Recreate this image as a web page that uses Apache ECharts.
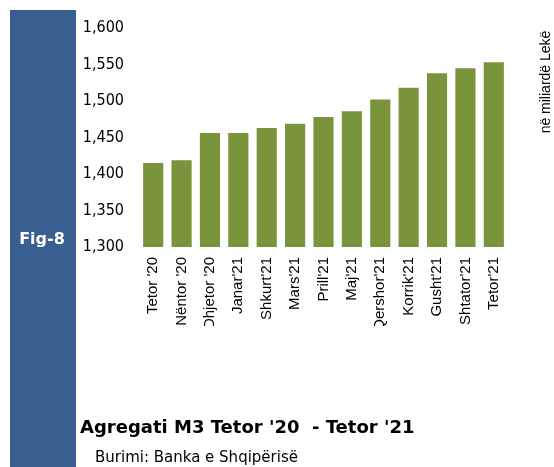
<!DOCTYPE html>
<html>
<head>
<meta charset="utf-8">
<script src="https://cdn.jsdelivr.net/npm/echarts@6/dist/echarts.min.js"></script>
<style>
  html, body { margin: 0; padding: 0; background: #fff; }
  #chart { width: 554px; height: 467px; }
</style>
</head>
<body>
<div id="chart"></div>
<script>
// muajt
const months = ["Tetor '20", "Nëntor '20", "Dhjetor '20", "Janar'21", "Shkurt'21", "Mars'21", "Prill'21",
  "Maj'21", "Qershor'21", "Korrik'21", "Gusht'21", "Shtator'21", "Tetor'21"]
// M3, miliardë Lekë
const m3Values = [1415, 1419, 1456, 1456, 1463, 1469, 1478, 1486, 1502, 1518, 1538, 1545, 1553]
const yTicks = [1300, 1350, 1400, 1450, 1500, 1550, 1600]

const chart = echarts.init(document.getElementById('chart'))

chart.setOption({
  animation: false,
  grid: { left: 139, right: 46, top: 28, bottom: 220 },
  xAxis: {
    type: 'category',
    data: months,
    axisLine: { show: false },
    axisTick: { show: false },
    axisLabel: {
      rotate: 90,
      margin: 10,
      interval: 0,
      color: '#000',
      fontFamily: 'Liberation Sans',
      fontSize: 15
    }
  },
  yAxis: {
    type: 'value',
    min: yTicks[0],
    max: yTicks[yTicks.length - 1],
    interval: 50,
    axisLine: { show: false },
    axisTick: { show: false },
    splitLine: { show: false },
    axisLabel: {
      margin: 15,
      color: '#000',
      fontFamily: 'DejaVu Sans Condensed',
      fontSize: 16,
      formatter: v => v.toLocaleString('en-US')
    }
  },
  series: [{
    type: 'bar',
    data: m3Values,
    barWidth: '71%',
    itemStyle: { color: '#7A943C' }
  }],
  graphic: [
    // labels are cut off below this line in the original
    { type: 'rect', z: 100, left: 130, top: 326, shape: { width: 400, height: 80 }, style: { fill: '#fff' } },
    { type: 'rect', left: 10, top: 10, shape: { width: 66, height: 457 }, style: { fill: '#385F8F' } },
    { type: 'text', x: 42, y: 240,
      style: { text: 'Fig-8', fill: '#fff', font: 'bold 16px "DejaVu Sans"', align: 'center', verticalAlign: 'middle' } },
    { type: 'text', x: 546, y: 82, rotation: Math.PI / 2,
      style: { text: 'në miliardë Lekë', fill: '#000', font: '14px "Liberation Sans"', align: 'center', verticalAlign: 'middle' } },
    { type: 'text', x: 80, y: 428,
      style: { text: "Agregati M3 Tetor '20  - Tetor '21", fill: '#000', font: 'bold 18px "DejaVu Sans"', verticalAlign: 'middle' } },
    { type: 'text', x: 95, y: 458,
      style: { text: 'Burimi: Banka e Shqipërisë', fill: '#000', font: '15px "DejaVu Sans"', verticalAlign: 'middle' } }
  ]
})
</script>
</body>
</html>
